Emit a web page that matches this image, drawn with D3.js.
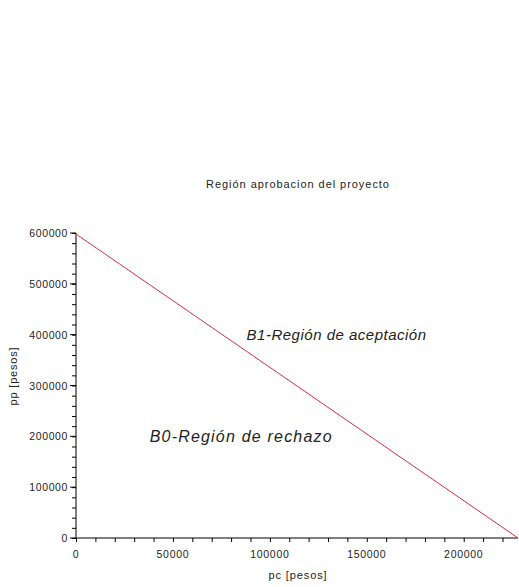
<!DOCTYPE html>
<html>
<head>
<meta charset="utf-8">
<script src="https://cdn.jsdelivr.net/npm/d3@7"></script>
<style>
  html, body { margin: 0; padding: 0; background: #fff; }
  svg { display: block; }
  text { font-family: "Liberation Sans", Arial, sans-serif; fill: #222; }
</style>
</head>
<body>
<script>
// Frontier between rejection and acceptance regions: pp vs pc
const frontierPc = [0, 228000];
const frontierPp = [598000, 0];

// Axis ticks
const xMajorTicks = [0, 50000, 100000, 150000, 200000];
const xMinorTicks = d3.range(0, 228001, 10000);
const yMajorTicks = [0, 100000, 200000, 300000, 400000, 500000, 600000];
const yMinorTicks = d3.range(0, 600001, 20000);

// Region annotations
const regionLabels = ["B1-Región de aceptación", "B0-Región de rechazo"];
const regionPc = [88000, 38000];
const regionPp = [390000, 188000];
const regionSize = [15, 16];
const regionSpacing = [0.5, 1.2];

const title = "Región aprobacion del proyecto";
const xTitle = "pc [pesos]";
const yTitle = "pp [pesos]";

const W = 519, H = 587;
const svg = d3.select("body").append("svg").attr("width", W).attr("height", H);

const x = d3.scaleLinear().domain([0, 228000]).range([76, 518]);
const y = d3.scaleLinear().domain([0, 600000]).range([538, 233]);

// Title
svg.append("text")
  .attr("x", 298).attr("y", 188)
  .attr("text-anchor", "middle")
  .style("font-size", "11px")
  .style("letter-spacing", "0.95px")
  .text(title);

// X axis
const gx = svg.append("g").attr("transform", `translate(0,${y(0)})`);
gx.call(d3.axisBottom(x).tickValues(xMinorTicks).tickSize(4).tickFormat(""));
gx.call(g => g.select(".domain").remove());
gx.append("line").attr("x1", x.range()[0]).attr("x2", x.range()[1]).attr("stroke", "#000");
gx.selectAll(".lbl").data(xMajorTicks).join("text")
  .attr("class", "lbl")
  .attr("x", d => x(d)).attr("y", 20)
  .attr("text-anchor", "middle")
  .style("font-size", "10.5px")
  .style("letter-spacing", "0.7px")
  .text(d => d);

// Y axis
const gy = svg.append("g").attr("transform", `translate(${x(0)},0)`);
gy.call(d3.axisLeft(y).tickValues(yMinorTicks).tickSize(4).tickFormat(""));
gy.call(g => g.select(".domain").remove());
gy.append("line").attr("y1", y.range()[0]).attr("y2", y.range()[1]).attr("stroke", "#000");
gy.selectAll(".maj").data(yMajorTicks).join("line")
  .attr("class", "maj")
  .attr("x1", -6).attr("x2", 0)
  .attr("y1", d => y(d)).attr("y2", d => y(d))
  .attr("stroke", "#000");
gy.selectAll(".lbl").data(yMajorTicks).join("text")
  .attr("class", "lbl")
  .attr("x", -8).attr("y", d => y(d) + 4)
  .attr("text-anchor", "end")
  .style("font-size", "10.5px")
  .style("letter-spacing", "0.6px")
  .text(d => d);

// Axis titles
svg.append("text")
  .attr("x", 298).attr("y", 579)
  .attr("text-anchor", "middle")
  .style("font-size", "11px")
  .style("letter-spacing", "0.9px")
  .text(xTitle);
svg.append("text")
  .attr("transform", "translate(17,376) rotate(-90)")
  .attr("text-anchor", "middle")
  .style("font-size", "11px")
  .style("letter-spacing", "0.8px")
  .text(yTitle);

// Frontier line
const pts = frontierPc.map((d, i) => [d, frontierPp[i]]);
svg.append("path")
  .attr("d", d3.line().x(d => x(d[0])).y(d => y(d[1]))(pts))
  .attr("fill", "none")
  .attr("stroke", "#dd2c40")
  .attr("stroke-width", 1);

// Region labels
svg.selectAll(".region").data(regionLabels).join("text")
  .attr("class", "region")
  .attr("x", (d, i) => x(regionPc[i]))
  .attr("y", (d, i) => y(regionPp[i]))
  .style("font-size", (d, i) => regionSize[i] + "px")
  .style("letter-spacing", (d, i) => regionSpacing[i] + "px")
  .style("font-style", "italic")
  .text(d => d);
</script>
</body>
</html>
